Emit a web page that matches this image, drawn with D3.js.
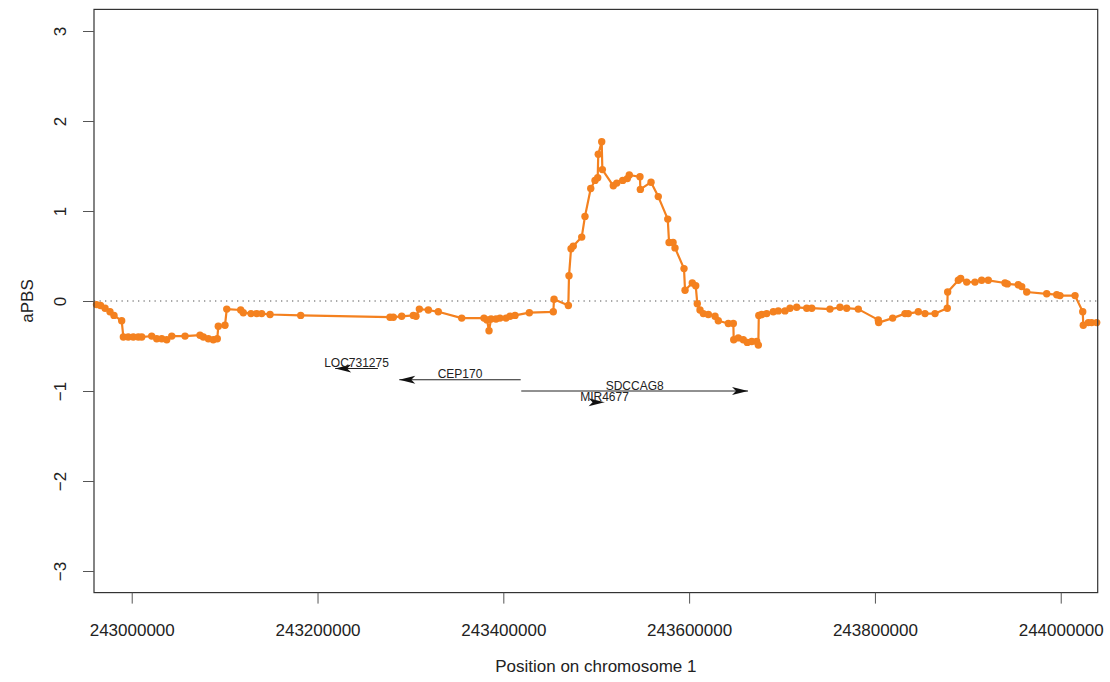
<!DOCTYPE html>
<html>
<head>
<meta charset="utf-8">
<script src="https://cdn.jsdelivr.net/npm/d3@7"></script>
<style>
  html, body { margin: 0; padding: 0; background: #fff; }
  svg { display: block; font-family: "Liberation Sans", Arial, sans-serif; }
</style>
</head>
<body>
<svg id="chart" width="1110" height="682"></svg>
<script>
// aPBS score along chromosome 1 (positions in bp)
const positions = [
  242962100, 242966400, 242971300, 242976600, 242980900, 242989200, 242991000, 242996300,
  243001700, 243007100, 243010800, 243021500, 243026900, 243032300, 243037700, 243043100,
  243057400, 243073500, 243077100, 243082500, 243087800, 243092100, 243093200, 243100400,
  243102300, 243117300, 243120100, 243128400, 243134500, 243139900, 243148900, 243181900,
  243278000, 243281600, 243290600, 243303100, 243306000, 243309600, 243319300, 243330000,
  243355200, 243379200, 243382400, 243384600, 243386800, 243392100, 243396400, 243402900,
  243407200, 243412600, 243428000, 243453800, 243454600, 243470000, 243470700, 243472900,
  243475300, 243484400, 243487900, 243494100, 243498700, 243501600, 243502200, 243505900,
  243506600, 243518400, 243522100, 243528500, 243533500, 243535600, 243547100, 243547500,
  243559000, 243566800, 243577000, 243578400, 243582700, 243584800, 243594500, 243595600,
  243603400, 243607100, 243608800, 243611700, 243615300, 243620700, 243627900, 243631400,
  243642200, 243647600, 243648000, 243652900, 243658300, 243662600, 243667400, 243672700,
  243674500, 243675000, 243678100, 243683500, 243690600, 243696000, 243703200, 243708600,
  243715800, 243726600, 243732000, 243751600, 243762400, 243769600, 243782100, 243803600,
  243804000, 243819100, 243832400, 243835900, 243846700, 243853900, 243864700, 243877900,
  243878300, 243889800, 243892300, 243898800, 243907700, 243914900, 243922000, 243940000,
  243942500, 243954300, 243958000, 243963400, 243984900, 243995700, 243999200, 244015400,
  244023700, 244024300, 244029700, 244033300, 244038700
];
const apbs = [
  -0.04, -0.05, -0.08, -0.12, -0.16, -0.22, -0.40, -0.40,
  -0.40, -0.40, -0.40, -0.39, -0.42, -0.42, -0.43, -0.39,
  -0.39, -0.38, -0.40, -0.42, -0.43, -0.42, -0.28, -0.27,
  -0.09, -0.10, -0.13, -0.14, -0.14, -0.14, -0.15, -0.16,
  -0.18, -0.18, -0.17, -0.16, -0.17, -0.09, -0.10, -0.12,
  -0.19, -0.19, -0.21, -0.33, -0.20, -0.20, -0.19, -0.19,
  -0.17, -0.16, -0.13, -0.12, 0.02, -0.05, 0.28, 0.58,
  0.61, 0.71, 0.94, 1.25, 1.34, 1.37, 1.63, 1.77,
  1.46, 1.28, 1.31, 1.34, 1.36, 1.40, 1.38, 1.24,
  1.32, 1.16, 0.91, 0.65, 0.65, 0.59, 0.36, 0.12,
  0.20, 0.17, -0.03, -0.10, -0.14, -0.15, -0.17, -0.22,
  -0.25, -0.25, -0.43, -0.41, -0.43, -0.46, -0.45, -0.45,
  -0.49, -0.16, -0.15, -0.14, -0.12, -0.11, -0.11, -0.08,
  -0.07, -0.08, -0.08, -0.09, -0.07, -0.08, -0.09, -0.21,
  -0.24, -0.19, -0.14, -0.14, -0.12, -0.14, -0.14, -0.08,
  0.10, 0.23, 0.25, 0.21, 0.21, 0.23, 0.23, 0.20,
  0.19, 0.18, 0.16, 0.10, 0.08, 0.07, 0.06, 0.06,
  -0.12, -0.27, -0.24, -0.24, -0.24
];

// gene annotation track
const geneNames  = ["LOC731275", "CEP170", "SDCCAG8", "MIR4677"];
const geneStart  = [243219000, 243288000, 243419300, 243508900];
const geneEnd    = [243265000, 243418700, 243663400, 243509000];
const geneStrand = ["-", "-", "+", "+"];
const geneLevel  = [-0.75, -0.875, -1.0, -1.125];

// axis ticks
const xTicks = [243000000, 243200000, 243400000, 243600000, 243800000, 244000000];
const yTicks = [-3, -2, -1, 0, 1, 2, 3];

const svg = d3.select("#chart");
const W = 1110, H = 682;
svg.append("rect").attr("width", W).attr("height", H).attr("fill", "#fff");

const box = { left: 94, right: 1097.7, top: 9.4, bottom: 592.6 };
const x = d3.scaleLinear().domain([242959400, 244039800]).range([box.left, box.right]);
const y = d3.scaleLinear().domain([-3.24, 3.24]).range([box.bottom, box.top]);

const ORANGE = "#f4811f";
const AXIS = "#333";
const FS = 17;

// zero reference line
svg.append("line")
  .attr("x1", box.left).attr("x2", box.right)
  .attr("y1", y(0)).attr("y2", y(0))
  .attr("stroke", "#555").attr("stroke-width", 1.1)
  .attr("stroke-dasharray", "1.3,4.2");

// score line and points
const pts = positions.map((p, i) => [p, apbs[i]]);
svg.append("path")
  .datum(pts)
  .attr("fill", "none")
  .attr("stroke", ORANGE)
  .attr("stroke-width", 2.2)
  .attr("stroke-linejoin", "round")
  .attr("d", d3.line().x(d => x(d[0])).y(d => y(d[1])));

svg.append("g").selectAll("circle")
  .data(pts).join("circle")
  .attr("cx", d => x(d[0])).attr("cy", d => y(d[1]))
  .attr("r", 3.7).attr("fill", ORANGE);

// genes: line with a barbed arrowhead at the 3' end
const headLen = 16, headHalf = 4, notch = 4;
const genes = geneNames.map((n, i) => ({
  name: n, s: geneStart[i], e: geneEnd[i], strand: geneStrand[i], lvl: geneLevel[i]
}));
const gG = svg.append("g");
genes.forEach(g => {
  const x0 = x(g.s), x1 = x(g.e), gy = y(g.lvl);
  gG.append("line")
    .attr("x1", x0).attr("x2", x1).attr("y1", gy).attr("y2", gy)
    .attr("stroke", "#222").attr("stroke-width", 1);
  const tip = g.strand === "+" ? x1 : x0;
  const dir = g.strand === "+" ? -1 : 1;
  const base = tip + dir * headLen;
  gG.append("path")
    .attr("d", `M${tip},${gy} L${base},${gy - headHalf} L${base - dir * notch},${gy} L${base},${gy + headHalf} Z`)
    .attr("fill", "#111");
  gG.append("text")
    .attr("x", (x0 + x1) / 2).attr("y", gy - 1.5)
    .attr("text-anchor", "middle")
    .attr("font-size", 12).attr("fill", "#222")
    .text(g.name);
});

// plot frame
svg.append("rect")
  .attr("x", box.left).attr("y", box.top)
  .attr("width", box.right - box.left).attr("height", box.bottom - box.top)
  .attr("fill", "none").attr("stroke", AXIS).attr("stroke-width", 1.2);

// x axis
const xAxis = svg.append("g")
  .attr("transform", `translate(0,${box.bottom})`)
  .call(d3.axisBottom(x).tickValues(xTicks).tickFormat(d3.format("d")).tickSizeOuter(0).tickSize(11).tickPadding(20));
xAxis.select(".domain").remove();
xAxis.selectAll("line").attr("stroke", "#555");
xAxis.selectAll("text").attr("font-size", FS).attr("fill", "#222")
  .attr("font-family", "Liberation Sans, Arial, sans-serif");

// y axis
const yAxis = svg.append("g")
  .attr("transform", `translate(${box.left},0)`)
  .call(d3.axisLeft(y).tickValues(yTicks).tickFormat(d3.format("d")).tickSizeOuter(0).tickSize(11));
yAxis.select(".domain").remove();
yAxis.selectAll("line").attr("stroke", "#555");
yAxis.selectAll("text").remove();
yAxis.selectAll(".tick").append("text")
  .attr("transform", "translate(-34,0) rotate(-90)")
  .attr("text-anchor", "middle")
  .attr("dy", "0.35em")
  .attr("font-size", FS).attr("fill", "#222")
  .attr("font-family", "Liberation Sans, Arial, sans-serif")
  .text(d => d3.format("d")(d).replace("-", "\u2212"));

// axis titles
svg.append("text")
  .attr("x", (box.left + box.right) / 2).attr("y", 672)
  .attr("text-anchor", "middle").attr("font-size", FS).attr("fill", "#222")
  .text("Position on chromosome 1");
svg.append("text")
  .attr("transform", `translate(33,${(box.top + box.bottom) / 2}) rotate(-90)`)
  .attr("text-anchor", "middle").attr("font-size", FS).attr("fill", "#222")
  .text("aPBS");
</script>
</body>
</html>
